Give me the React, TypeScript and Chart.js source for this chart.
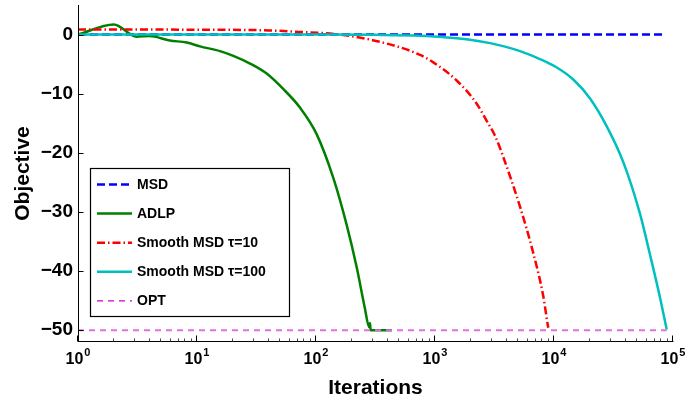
import React, { useEffect, useRef } from 'react';
import { Chart, registerables } from 'chart.js';

Chart.register(...registerables);

// ---------- data ----------
const seriesLabels = ['MSD', 'ADLP', 'Smooth MSD \u03c4=10', 'Smooth MSD \u03c4=100', 'OPT'];

const msdX = [1, 85000];
const msdY = [0, 0];

const adlpX = [1, 2, 3.1, 4, 5.9, 8.2, 10.6, 15.6, 20.2, 27.9, 38.5, 53, 73, 101, 140, 181, 220, 257, 280, 284, 288, 300, 435];
const adlpY = [0, 1.7, -0.35, -0.25, -1.0, -1.35, -2.0, -2.8, -3.6, -4.9, -6.6, -9.2, -12.3, -16.8, -24.3, -32.2, -39.4, -46.2, -49.5, -48.8, -50, -50, -50];

const smooth10X = [1, 20, 40, 73, 150, 267, 508, 748, 968, 1521, 2240, 2733, 3193, 3750, 5180, 6700, 8130, 8850, 8950];
const smooth10Y = [0.85, 0.8, 0.7, 0.45, 0.05, -0.74, -2.16, -3.44, -4.7, -7.77, -11.69, -14.68, -17.12, -20.74, -29.12, -36.97, -44.28, -49.05, -49.6];

const smooth100X = [1, 100, 300, 748, 1337, 1968, 2899, 3874, 5180, 7625, 10390, 14530, 20080, 27750, 38230, 52820, 64120, 77840, 88530];
const smooth100Y = [0, 0, -0.05, -0.19, -0.52, -0.86, -1.45, -2.04, -2.8, -4.14, -5.49, -7.6, -10.8, -15.52, -21.58, -30.34, -37.25, -44.5, -49.89];

const optX = [1, 88500];
const optY = [-50, -50];

const yTickValues = [0, -10, -20, -30, -40, -50];
const xDecades = [0, 1, 2, 3, 4, 5];

const FONT = '"Liberation Sans", Arial, Helvetica, sans-serif';

const pts = (xs: number[], ys: number[]) => xs.map((x, i) => ({ x, y: ys[i] }));

// ---------- plugins ----------
const axesPlugin = {
  id: 'matlabAxes',
  afterDraw(chart: any) {
    const { ctx, chartArea: a, scales } = chart;
    const xs = scales.x;
    const ys = scales.y;
    ctx.save();
    ctx.strokeStyle = '#000';
    ctx.lineWidth = 1;
    const L = Math.round(a.left) + 0.5;
    const B = Math.round(a.bottom) - 0.5;
    ctx.beginPath();
    ctx.moveTo(L, a.top);
    ctx.lineTo(L, B + 0.5);
    ctx.moveTo(L - 0.5, B);
    ctx.lineTo(a.right + 0.5, B);
    ctx.stroke();

    // y ticks (inward)
    ctx.beginPath();
    yTickValues.forEach((v) => {
      const py = Math.round(ys.getPixelForValue(v)) + 0.5;
      ctx.moveTo(L, py);
      ctx.lineTo(L + 5, py);
    });
    ctx.stroke();

    // x ticks major
    ctx.beginPath();
    xDecades.forEach((k) => {
      const px = Math.round(xs.getPixelForValue(Math.pow(10, k))) - 0.5;
      ctx.moveTo(px, B);
      ctx.lineTo(px, B - 6);
    });
    ctx.stroke();
    // minor
    ctx.strokeStyle = '#444';
    ctx.beginPath();
    for (let k = 0; k < 5; k++) {
      for (let m = 2; m <= 9; m++) {
        const px = Math.round(xs.getPixelForValue(m * Math.pow(10, k))) - 0.5;
        ctx.moveTo(px, B);
        ctx.lineTo(px, B - 3);
      }
    }
    ctx.stroke();

    // x tick labels with superscripts
    ctx.fillStyle = '#000';
    ctx.textBaseline = 'alphabetic';
    ctx.textAlign = 'left';
    xDecades.forEach((k) => {
      const px = xs.getPixelForValue(Math.pow(10, k));
      ctx.font = `bold 16px ${FONT}`;
      const w1 = ctx.measureText('10').width;
      ctx.font = `bold 11px ${FONT}`;
      const w2 = ctx.measureText(String(k)).width;
      const start = px - (w1 + 1 + w2) / 2;
      ctx.font = `bold 16px ${FONT}`;
      ctx.fillText('10', start, 363.5);
      ctx.font = `bold 11px ${FONT}`;
      ctx.fillText(String(k), start + w1 + 1, 356);
    });
    ctx.restore();
  },
};

const legendPlugin = {
  id: 'boxLegend',
  afterDraw(chart: any) {
    const { ctx } = chart;
    ctx.save();
    ctx.fillStyle = '#fff';
    ctx.fillRect(90.5, 168.5, 199, 148);
    ctx.strokeStyle = '#000';
    ctx.lineWidth = 1.2;
    ctx.strokeRect(90.5, 168.5, 199, 148);
    chart.data.datasets.forEach((ds: any, i: number) => {
      const y = 184.5 + i * 29.1;
      ctx.save();
      ctx.strokeStyle = ds.legendColor || ds.borderColor;
      ctx.lineWidth = ds.legendWidth || ds.borderWidth;
      ctx.setLineDash(ds.borderDash || []);
      ctx.beginPath();
      ctx.moveTo(97, y);
      ctx.lineTo(132, y);
      ctx.stroke();
      ctx.restore();
      ctx.fillStyle = '#000';
      ctx.font = `bold 14px ${FONT}`;
      ctx.textBaseline = 'middle';
      ctx.textAlign = 'left';
      ctx.fillText(ds.label, 137, y + 0.5);
    });
    ctx.restore();
  },
};

export default function App() {
  const ref = useRef<HTMLCanvasElement | null>(null);

  useEffect(() => {
    document.body.style.margin = '0';
    if (!ref.current) return;
    const chart = new Chart(ref.current, {
      type: 'line',
      data: {
        datasets: [
          {
            label: seriesLabels[0],
            data: pts(msdX, msdY),
            borderColor: '#0000ff',
            borderWidth: 2.5,
            borderDash: [8, 4],
            pointRadius: 0,
            fill: false,
            order: 5,
          },
          {
            label: seriesLabels[1],
            data: pts(adlpX, adlpY),
            borderColor: '#008000',
            borderWidth: 2.5,
            pointRadius: 0,
            fill: false,
            cubicInterpolationMode: 'monotone',
            order: 4,
          },
          {
            label: seriesLabels[2],
            data: pts(smooth10X, smooth10Y),
            borderColor: '#ff0000',
            borderWidth: 2.5,
            borderDash: [8, 3, 1.5, 3],
            pointRadius: 0,
            fill: false,
            cubicInterpolationMode: 'monotone',
            order: 3,
          },
          {
            label: seriesLabels[3],
            data: pts(smooth100X, smooth100Y),
            borderColor: '#00bfbf',
            borderWidth: 2.5,
            pointRadius: 0,
            fill: false,
            cubicInterpolationMode: 'monotone',
            order: 2,
          },
          {
            label: seriesLabels[4],
            data: pts(optX, optY),
            borderColor: '#e070e0',
            legendColor: '#cc00cc',
            legendWidth: 1.3,
            borderWidth: 2,
            borderDash: [6, 5],
            pointRadius: 0,
            fill: false,
            order: 1,
          },
        ] as any,
      },
      options: {
        animation: false,
        responsive: false,
        layout: { padding: { top: 5, right: 16, left: 0, bottom: 0 } },
        plugins: { legend: { display: false }, tooltip: { enabled: false } },
        elements: { point: { radius: 0 } },
        scales: {
          x: {
            type: 'logarithmic',
            min: 1,
            max: 100000,
            grid: { display: false, drawTicks: false },
            border: { display: false },
            ticks: { display: false },
            title: {
              display: true,
              text: 'Iterations',
              color: '#000',
              font: { size: 21, weight: 'bold', family: FONT },
              padding: { top: 0, bottom: 0 },
            },
            afterFit: (s: any) => {
              s.height = 59;
              s.paddingLeft = 0;
              s.paddingRight = 0;
            },
          },
          y: {
            type: 'linear',
            min: -52,
            max: 5,
            grid: { display: false, drawTicks: false },
            border: { display: false },
            ticks: {
              color: '#000',
              padding: 5,
              font: { size: 19, weight: 'bold', family: FONT },
              callback: (v: any) => (Number(v) === 0 ? '0' : '\u2212' + Math.abs(Number(v))),
            },
            afterBuildTicks: (s: any) => {
              s.ticks = yTickValues.map((v) => ({ value: v }));
            },
            title: {
              display: true,
              text: 'Objective',
              color: '#000',
              font: { size: 21, weight: 'bold', family: FONT },
              padding: { top: 11, bottom: 0 },
            },
            afterFit: (s: any) => {
              s.width = 78;
              s.paddingTop = 0;
              s.paddingBottom = 0;
            },
          },
        },
      } as any,
      plugins: [axesPlugin, legendPlugin],
    });
    return () => chart.destroy();
  }, []);

  return (
    <div style={{ width: 689, height: 401 }}>
      <canvas ref={ref} width={689} height={401} style={{ display: 'block', width: 689, height: 401 }} />
    </div>
  );
}
